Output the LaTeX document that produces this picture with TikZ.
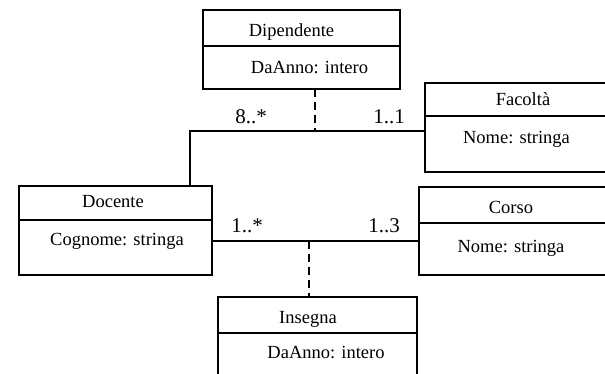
\documentclass[tikz,border=0pt]{standalone}
\usepackage{fontspec}
\setmainfont{Liberation Serif}
\begin{document}
\begin{tikzpicture}[x=1pt,y=-1pt,line width=2pt,
    classe/.style={draw,rectangle,outer sep=0pt,inner sep=0pt,anchor=north west},
    testo/.style={anchor=base,inner sep=0pt,font=\fontsize{18.5}{22}\selectfont},
    molt/.style={anchor=base,inner sep=0pt,font=\fontsize{21}{25}\selectfont},
    assoc/.style={dash pattern=on 8pt off 5pt}]
    \clip (0,0) rectangle (605,373);

    % classi
    \node[classe,minimum width=197pt,minimum height=79pt] (dip) at (203,10) {};
    \node[classe,minimum width=200pt,minimum height=89pt] (fac) at (425,83) {};
    \node[classe,minimum width=193pt,minimum height=89pt] (doc) at (19,186) {};
    \node[classe,minimum width=200pt,minimum height=88pt] (cor) at (419,187) {};
    \node[classe,minimum width=199pt,minimum height=100pt] (ins) at (218,297) {};

    \draw ([yshift=-36pt]dip.north west) -- ([yshift=-36pt]dip.north east);
    \draw ([yshift=-33pt]fac.north west) -- ([yshift=-33pt]fac.north east);
    \draw ([yshift=-34pt]doc.north west) -- ([yshift=-34pt]doc.north east);
    \draw ([yshift=-36pt]cor.north west) -- ([yshift=-36pt]cor.north east);
    \draw ([yshift=-36pt]ins.north west) -- ([yshift=-36pt]ins.north east);

    \node[testo] (dipNome) at (291.5,36) {Dipendente};
    \node[testo] (dipAttr) at (309.5,73) {DaAnno: intero};
    \node[testo] (facNome) at (523,105) {Facoltà};
    \node[testo] (facAttr) at (516.5,143) {Nome: stringa};
    \node[testo] (docNome) at (113,207) {Docente};
    \node[testo] (docAttr) at (117,245) {Cognome: stringa};
    \node[testo] (corNome) at (511,213) {Corso};
    \node[testo] (corAttr) at (511,252) {Nome: stringa};
    \node[testo] (insNome) at (308,323) {Insegna};
    \node[testo] (insAttr) at (326,358) {DaAnno: intero};

    % associazioni
    \coordinate (g1) at (190,131);
    \coordinate (m1) at (315,131);
    \coordinate (m2) at (309,241);
    \draw (fac.west |- m1) -- (g1) -- (doc.north -| g1);
    \draw[assoc] (dip.south -| m1) -- (m1);
    \draw (doc.east |- m2) -- (cor.west |- m2);
    \draw[assoc] (m2) -- (ins.north -| m2);

    \node[molt] (mDip) at (251,123) {8..*};
    \node[molt] (mFac) at (389,123) {1..1};
    \node[molt] (mDoc) at (247,232) {1..*};
    \node[molt] (mCor) at (384,232) {1..3};
\end{tikzpicture}
\end{document}
